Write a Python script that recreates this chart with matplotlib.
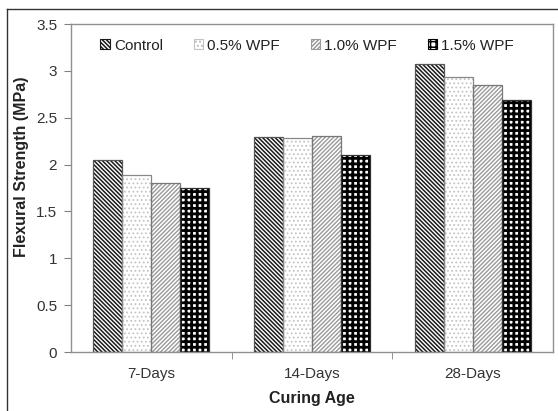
import matplotlib
matplotlib.use("Agg")
import matplotlib.pyplot as plt
import numpy as np
from matplotlib.lines import Line2D
from matplotlib.patches import Patch

categories = ["7-Days", "14-Days", "28-Days"]
series_names = ["Control", "0.5% WPF", "1.0% WPF", "1.5% WPF"]
control = [2.05, 2.29, 3.07]
wpf_05 = [1.89, 2.28, 2.93]
wpf_10 = [1.80, 2.30, 2.85]
wpf_15 = [1.75, 2.10, 2.69]
yticks = [0, 0.5, 1, 1.5, 2, 2.5, 3, 3.5]

plt.rcParams['font.family'] = ['Liberation Sans', 'DejaVu Sans']
plt.rcParams['hatch.linewidth'] = 1.1

fig = plt.figure(figsize=(5.58, 4.11), dpi=100)
ax = fig.add_axes([71/558, 1-352/411, (553-71)/558, (352-24)/411])

styles = [
    dict(hatch='\\\\\\\\\\\\\\\\', hcol='#1a1a1a', ecol='#555555', hlw=1.1),
    dict(hatch='....', hcol='#c4c4c4', ecol='#888888', hlw=0.8),
    dict(hatch='////////', hcol='#9a9a9a', ecol='#777777', hlw=1.0),
    dict(hatch='+++', hcol='#000000', ecol='#333333', hlw=2.0),
]
data = [control, wpf_05, wpf_10, wpf_15]
x = np.arange(len(categories)) + 1
w = 0.18
handles = []
for i, (vals, st) in enumerate(zip(data, styles)):
    pos = x + (i - 1.5) * w
    bars = ax.bar(pos, vals, w, color='white', edgecolor=st['hcol'], hatch=st['hatch'], linewidth=0, zorder=2)
    for b in bars:
        try:
            b.set_hatch_linewidth(st['hlw'])
        except Exception:
            pass
    ax.bar(pos, vals, w, fill=False, edgecolor=st['ecol'], linewidth=0.9, zorder=3)
    h = Patch(facecolor='white', edgecolor=st['hcol'], hatch=st['hatch'], linewidth=0.8)
    try:
        h.set_hatch_linewidth(min(st['hlw'], 1.0))
    except Exception:
        pass
    handles.append(h)

ax.set_xlim(0.5, 3.5)
ax.set_ylim(0, 3.5)
ax.set_yticks(yticks)
ax.set_yticklabels([f"{t:g}" for t in yticks])
ax.set_xticks(x)
ax.set_xticklabels(categories)
ax.set_xticks([1.5, 2.5], minor=True)
ax.tick_params(axis='x', which='major', length=0, pad=11, labelsize=11, labelcolor='#333333')
ax.tick_params(axis='x', which='minor', length=5, color='#808080')
ax.tick_params(axis='y', length=5, color='#808080', labelsize=11, labelcolor='#333333', pad=5)
for s in ax.spines.values():
    s.set_color('#909090')
    s.set_linewidth(1.0)

ax.set_xlabel("Curing Age", fontsize=11.5, fontweight='bold', labelpad=7, color='#222222')
ax.set_ylabel("Flexural Strength (MPa)", fontsize=11.5, fontweight='bold', color='#222222')
ax.yaxis.set_label_coords(-(71-29)/482, (352-167)/328)

ax.legend(handles, series_names, loc='upper center', bbox_to_anchor=(0.49, 0.997), ncol=4,
          frameon=False, fontsize=11, handlelength=0.6, handleheight=0.6, handletextpad=0.3,
          columnspacing=2.0, labelcolor='#222222')

fig.add_artist(Line2D([7/558, 7/558], [0, 1-9/411], color='#333333', lw=1.0, transform=fig.transFigure))
fig.add_artist(Line2D([7/558, 1], [1-9/411, 1-9/411], color='#333333', lw=1.0, transform=fig.transFigure))

fig.savefig("out.png", dpi=100)
